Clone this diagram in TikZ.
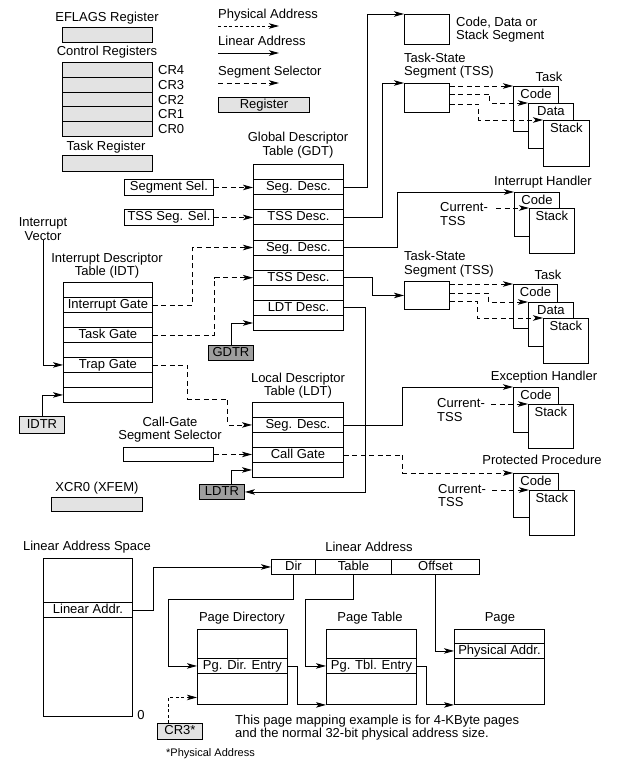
\documentclass[tikz,border=0pt]{standalone}
\usepackage{fontspec}
\setmainfont{Liberation Sans}
\usetikzlibrary{arrows.meta}
\tikzset{
 cellbox/.style={draw, line width=0.9pt, anchor=north west, inner sep=0pt, text height=9.5pt, text depth=2.5pt},
 wbox/.style={cellbox, fill=white},
 lreg/.style={cellbox, fill=black!11},
 dreg/.style={cellbox, fill=black!38},
 txt/.style={inner sep=0pt, text height=9.5pt, text depth=2.5pt},
 mtxt/.style={inner sep=0pt, align=center},
 arr/.style={line width=0.9pt, -{Stealth[length=10pt,width=5.5pt,inset=2.5pt]}},
 lin/.style={arr},
 sel/.style={arr, dash pattern=on 5pt off 3.5pt},
 phy/.style={arr, dash pattern=on 3pt off 2.5pt},
 wh/.style 2 args={minimum width=#1, minimum height=#2},
 toptext/.style={label={[txt, anchor=north, yshift=-2.5pt]north:#1}},
}
\begin{document}
\begin{tikzpicture}[x=1pt,y=-1pt, every node/.style={font=\fontsize{13}{13.5}\selectfont}]
\useasboundingbox (0,0) rectangle (625,765);

% legend
\node[txt,anchor=west] (lgphys) at (218,15) {Physical Address};
\coordinate (lgpa) at (218,26); \coordinate (lgpb) at (279,26);
\draw[phy] (lgpa) -- (lgpb);
\node[txt,anchor=west] (lglin) at (218,42) {Linear Address};
\coordinate (lgla) at (218,53); \coordinate (lglb) at (279,53);
\draw[lin] (lgla) -- (lglb);
\node[txt,anchor=west] (lgsel) at (218,72) {Segment Selector};
\coordinate (lgsa) at (218,83); \coordinate (lgsb) at (279,83);
\draw[sel] (lgsa) -- (lgsb);
\node[lreg,wh={91pt}{15pt}] (lgreg) at (218,97) {Register};

% registers
\node[txt] (eflagslbl) at (107,18) {EFLAGS Register};
\node[lreg,wh={90pt}{15pt}] (eflags) at (62,27) {};
\node[txt] (crlbl) at (107,52) {Control Registers};
\foreach \i/\n in {0/4,1/3,2/2,3/1,4/0} {
  \node[lreg,wh={90pt}{14.8pt}] (ctl\n) at (62,62+14.8*\i) {};
  \node[txt,anchor=west] (ctll\n) at (158,71+14.8*\i) {CR\n};
}
\node[txt] (trlbl) at (106,147) {Task Register};
\node[lreg,wh={90pt}{16pt}] (treg) at (62,155) {};

% IDT
\node[mtxt] (idtlbl) at (107,265.5) {Interrupt Descriptor\\Table (IDT)};
\node[cellbox,wh={89pt}{15pt}] (idt1) at (63,282) {};
\node[cellbox,wh={89pt}{15pt}] (idt2) at (63,297) {Interrupt Gate};
\node[cellbox,wh={89pt}{15pt}] (idt3) at (63,312) {};
\node[cellbox,wh={89pt}{15pt}] (idt4) at (63,327) {Task Gate};
\node[cellbox,wh={89pt}{15pt}] (idt5) at (63,342) {};
\node[cellbox,wh={89pt}{15pt}] (idt6) at (63,357) {Trap Gate};
\node[cellbox,wh={89pt}{15pt}] (idt7) at (63,372) {};
\node[cellbox,wh={89pt}{15pt}] (idt8) at (63,387) {};
\node[mtxt] (ivec) at (43,229) {Interrupt\\Vector};
\node[lreg,wh={45pt}{17pt}] (idtr) at (19,416) {IDTR};
\draw[lin] (ivec.south) |- (idt6.west);
\draw[lin] (idtr.north) |- (idt8.west);

% GDT
\node[mtxt] (gdtlbl) at (298,145) {Global Descriptor\\Table (GDT)};
\node[cellbox,wh={90pt}{15.1pt}] (gdt1) at (253,164) {};
\node[cellbox,wh={90pt}{15.1pt}] (gdt2) at (253,179.1) {Seg. Desc.};
\node[cellbox,wh={90pt}{15.1pt}] (gdt3) at (253,194.2) {};
\node[cellbox,wh={90pt}{15.1pt}] (gdt4) at (253,209.3) {TSS Desc.};
\node[cellbox,wh={90pt}{15.1pt}] (gdt5) at (253,224.4) {};
\node[cellbox,wh={90pt}{15.1pt}] (gdt6) at (253,239.5) {Seg. Desc.};
\node[cellbox,wh={90pt}{15.1pt}] (gdt7) at (253,254.6) {};
\node[cellbox,wh={90pt}{15.1pt}] (gdt8) at (253,269.7) {TSS Desc.};
\node[cellbox,wh={90pt}{15.1pt}] (gdt9) at (253,284.8) {};
\node[cellbox,wh={90pt}{15.1pt}] (gdt10) at (253,299.9) {LDT Desc.};
\node[cellbox,wh={90pt}{15.1pt}] (gdt11) at (253,315) {};
\node[cellbox,wh={89pt}{16pt}] (segsel) at (124,179) {Segment Sel.};
\node[cellbox,wh={89pt}{16pt}] (tsssel) at (124,209) {TSS Seg. Sel.};
\node[dreg,wh={45pt}{15pt}] (gdtr) at (208,345) {GDTR};
\draw[sel] (segsel.east) -- (segsel.east -| gdt2.west);
\draw[sel] (tsssel.east) -- (tsssel.east -| gdt4.west);
\draw[sel] (idt2.east) -- ++(40,0) |- (gdt6.west);
\draw[sel] (idt4.east) -- ++(62,0) |- (gdt8.west);
\draw[lin] (gdtr.north) |- (gdt11.west);

% code/data/stack segment
\node[cellbox,wh={45pt}{30pt}] (cds) at (404,14) {};
\node[mtxt,align=left,anchor=west] (cdslbl) at (456,29.5) {Code, Data or\\Stack Segment};
\draw[lin] (gdt2.east) -- ++(24,0) |- (cds.north west);

% TSS 1 and task
\node[mtxt,align=left,anchor=west] (tss1lbl) at (404,65.5) {Task-State\\Segment (TSS)};
\node[cellbox,wh={45pt}{29pt}] (tss1) at (404,83) {};
\draw[lin] (gdt4.east) -- ++(39,0) |- (tss1.north west);
\node[txt] (task1lbl) at (549,78) {Task};
\node[wbox,wh={45pt}{45pt},toptext=Code] (t1code) at (513,86) {};
\node[wbox,wh={45pt}{45pt},toptext=Data] (t1data) at (528,103) {};
\node[wbox,wh={46pt}{46pt},toptext=Stack] (t1stack) at (543,120) {};
\draw[sel] ([yshift=-3pt]tss1.north east) -- (t1code.north west);
\draw[sel] ([yshift=-11pt]tss1.north east) -- ++(40,0) |- (t1data.north west);
\draw[sel] ([yshift=-21pt]tss1.north east) -- ++(29,0) |- (t1stack.north west);

% interrupt handler
\node[txt] (ihlbl) at (543,182) {Interrupt Handler};
\node[wbox,wh={45pt}{44pt},toptext=Code] (ihcode) at (514,192) {};
\node[wbox,wh={45pt}{45pt},toptext=Stack] (ihstack) at (529,208) {};
\node[txt,anchor=west] (cur1) at (440,208) {Current-};
\node[txt,anchor=west] (cur1b) at (440,222) {TSS};
\draw[sel] (cur1.east) ++(8,0) -- (ihstack.north west);
\draw[lin] (gdt6.east) -- ++(54,0) |- (ihcode.north west);

% TSS 2 and task
\node[mtxt,align=left,anchor=west] (tss2lbl) at (404,264) {Task-State\\Segment (TSS)};
\node[cellbox,wh={45pt}{28pt}] (tss2) at (404,281) {};
\draw[lin] (gdt8.east) -- ++(29,0) |- (tss2.west);
\node[txt] (task2lbl) at (548,276) {Task};
\node[wbox,wh={44pt}{44pt},toptext=Code] (t2code) at (513,284) {};
\node[wbox,wh={45pt}{44pt},toptext=Data] (t2data) at (528,302) {};
\node[wbox,wh={45pt}{45pt},toptext=Stack] (t2stack) at (543,318) {};
\draw[sel] ([yshift=-3pt]tss2.north east) -- (t2code.north west);
\draw[sel] ([yshift=-12pt]tss2.north east) -- ++(39,0) |- (t2data.north west);
\draw[sel] ([yshift=-20pt]tss2.north east) -- ++(28,0) |- (t2stack.north west);

% LDT
\node[mtxt] (ldtlbl) at (298,385.5) {Local Descriptor\\Table (LDT)};
\node[cellbox,wh={91pt}{15pt}] (ldt1) at (252,402) {};
\node[cellbox,wh={91pt}{15pt}] (ldt2) at (252,417) {Seg. Desc.};
\node[cellbox,wh={91pt}{15pt}] (ldt3) at (252,432) {};
\node[cellbox,wh={91pt}{15pt}] (ldt4) at (252,447) {Call Gate};
\node[cellbox,wh={91pt}{15pt}] (ldt5) at (252,462) {};
\node[mtxt] (cglbl) at (170,429.5) {Call-Gate\\Segment Selector};
\node[cellbox,wh={90pt}{14pt}] (cgsel) at (123,447) {};
\node[dreg,wh={45pt}{15pt}] (ldtr) at (199,484) {LDTR};
\draw[sel] (cgsel.east) -- (cgsel.east -| ldt4.west);
\draw[lin] ([xshift=9pt]ldtr.north) |- (ldt5.west);
\draw[lin] (gdt10.east) -- ++(22,0) |- (ldtr.east);
\draw[sel] (idt6.east) -- ++(35,0) -- ++(0,34) -- ++(40,0) |- (ldt2.west);

% exception handler
\node[txt] (ehlbl) at (544,377) {Exception Handler};
\node[wbox,wh={45pt}{45pt},toptext=Code] (ehcode) at (513,387) {};
\node[wbox,wh={45pt}{44pt},toptext=Stack] (ehstack) at (528,404) {};
\node[txt,anchor=west] (cur2) at (437,404) {Current-};
\node[txt,anchor=west] (cur2b) at (437,418) {TSS};
\draw[sel] (cur2.east) ++(6,0) -- (ehstack.north west);
\draw[lin] (ldt2.east) -- ++(59,0) |- (ehcode.north west);

% protected procedure
\node[txt] (pplbl) at (542,461) {Protected Procedure};
\node[wbox,wh={45pt}{44pt},toptext=Code] (ppcode) at (513,473) {};
\node[wbox,wh={45pt}{45pt},toptext=Stack] (ppstack) at (529,490) {};
\node[txt,anchor=west] (cur3) at (438,490) {Current-};
\node[txt,anchor=west] (cur3b) at (438,503) {TSS};
\draw[sel] (cur3.east) ++(6,0) -- (ppstack.north west);
\draw[sel] (ldt4.east) -- ++(59,0) |- (ppcode.north west);

% XCR0
\node[txt] (xcrlbl) at (97,488) {XCR0 (XFEM)};
\node[lreg,wh={91pt}{14pt}] (xcr0) at (51,497) {};

% paging
\node[txt] (laslbl) at (87,547) {Linear Address Space};
\node[cellbox,wh={89pt}{44pt}] (las1) at (43,558) {};
\node[cellbox,wh={89pt}{15pt}] (las2) at (43,602) {Linear Addr.};
\node[cellbox,wh={89pt}{99pt}] (las3) at (43,617) {};
\node[txt] (zero) at (141,716) {0};
\node[txt] (lalbl) at (369,548) {Linear Address};
\node[cellbox,wh={44pt}{15pt}] (dir) at (271,559) {Dir};
\node[cellbox,wh={76pt}{15pt}] (tbl) at (315,559) {Table};
\node[cellbox,wh={88pt}{15pt}] (off) at (391,559) {Offset};
\draw[lin] (las2.east) -- ++(21,0) |- (dir.west);

\node[txt] (pdlbl) at (242,618) {Page Directory};
\node[cellbox,wh={90pt}{29pt}] (pd1) at (197,629) {};
\node[cellbox,wh={90pt}{15pt}] (pd2) at (197,658) {Pg. Dir. Entry};
\node[cellbox,wh={90pt}{31pt}] (pd3) at (197,673) {};
\node[txt] (ptlbl) at (370,618) {Page Table};
\node[cellbox,wh={90pt}{29pt}] (pt1) at (326,629) {};
\node[cellbox,wh={90pt}{15pt}] (pt2) at (326,658) {Pg. Tbl. Entry};
\node[cellbox,wh={90pt}{31pt}] (pt3) at (326,673) {};
\node[txt] (pglbl) at (500,618) {Page};
\node[cellbox,wh={90pt}{14pt}] (pg1) at (454,629) {};
\node[cellbox,wh={90pt}{15pt}] (pg2) at (454,643) {Physical Addr.};
\node[cellbox,wh={90pt}{46pt}] (pg3) at (454,658) {};

\draw[lin] (dir.south) -- ++(0,25) -| ([xshift=-29pt]pd2.west) -- (pd2.west);
\draw[lin] (tbl.south) -- ++(0,25) -| ([xshift=-21pt]pt2.west) -- (pt2.west);
\draw[lin] (off.south) |- (pg2.west);
\draw[lin] (pd2.east) -- ++(10,0) |- (pt3.south west);
\draw[lin] (pt2.east) -- ++(10,0) |- (pg3.south west);

\node[lreg,wh={45pt}{16pt}] (crthree) at (157,723) {CR3*};
\draw[phy] ([xshift=-11.5pt]crthree.north) |- ([yshift=-8.5pt]pd3.west);
\node[mtxt,align=left,anchor=west] (note) at (235,727.5) {This page mapping example is for 4-KByte pages\\and the normal 32-bit physical address size.};
\node[txt,anchor=west,font=\fontsize{11}{12}\selectfont] (physnote) at (166,753) {*Physical Address};
\end{tikzpicture}
\end{document}
